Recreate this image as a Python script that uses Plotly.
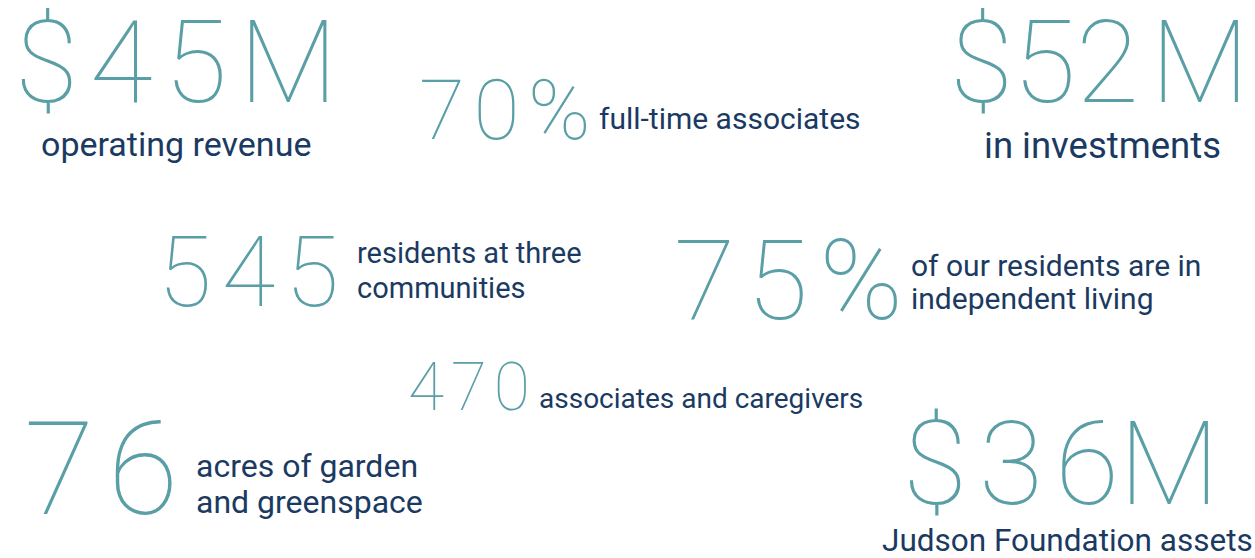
import plotly.graph_objects as go

# --- data ---
stat_values = ["$45M", "70%", "$52M", "545", "75%", "470", "76", "$36M"]
stat_labels = [
    ["operating revenue"],
    ["full-time associates"],
    ["in investments"],
    ["residents at three", "communities"],
    ["of our residents are in", "independent living"],
    ["associates and caregivers"],
    ["acres of garden", "and greenspace"],
    ["Judson Foundation assets"],
]

TEAL = "#5a9ea6"
NAVY = "#1b3a62"
HAIR = "\u200a"

# layout (positions / sizes / tracking), separate from the data
# value: (x_left, y_center, size, gaps-with-hair-space) ; label: (x_left, [y per line], size)
value_pos = [
    (13, 62, 115, [1, 1, 1]),
    (417, 110, 84, [1, 1]),
    (948, 62, 115, [0, 0, 1]),
    (156, 272, 98, [1, 1]),
    (672, 280, 112, [1, 1]),
    (406, 387, 66, [1, 1]),
    (22, 469, 129, [1]),
    (901, 464, 117, [1, 1, 0]),
]
label_pos = [
    (39, [144], 34),
    (597, [118], 30),
    (982, [145], 36.5),
    (355, [253, 288], 29),
    (909, [265, 298], 30),
    (537, [398], 28),
    (194, [466, 502], 32),
    (880, [540], 31.5),
]


def tracked(text, gaps):
    out = text[0]
    for ch, g in zip(text[1:], gaps):
        out += (HAIR if g else "") + ch
    return out


fig = go.Figure()
fig.add_trace(go.Scatter(x=[0, 1255], y=[0, 558], mode="markers",
                         marker=dict(opacity=0), hoverinfo="skip", showlegend=False))

for val, lines, vp, lp in zip(stat_values, stat_labels, value_pos, label_pos):
    vx, vy, vs, gaps = vp
    fig.add_annotation(x=vx, y=vy, xref="x", yref="y", text=tracked(val, gaps), showarrow=False,
                       xanchor="left", yanchor="middle",
                       font=dict(family="Roboto", size=vs, color=TEAL, weight=100))
    lx, lys, ls = lp
    for line, ly in zip(lines, lys):
        fig.add_annotation(x=lx, y=ly, xref="x", yref="y", text=line, showarrow=False,
                           xanchor="left", yanchor="middle",
                           font=dict(family="Roboto", size=ls, color=NAVY))

fig.update_xaxes(range=[0, 1255], visible=False, fixedrange=True)
fig.update_yaxes(range=[558, 0], visible=False, fixedrange=True)
fig.update_layout(width=1255, height=558, margin=dict(l=0, r=0, t=0, b=0),
                  plot_bgcolor="white", paper_bgcolor="white")
fig.write_html("out.html", config={"displayModeBar": False},
               post_script="document.body.style.margin='0';document.body.style.overflow='hidden';")
